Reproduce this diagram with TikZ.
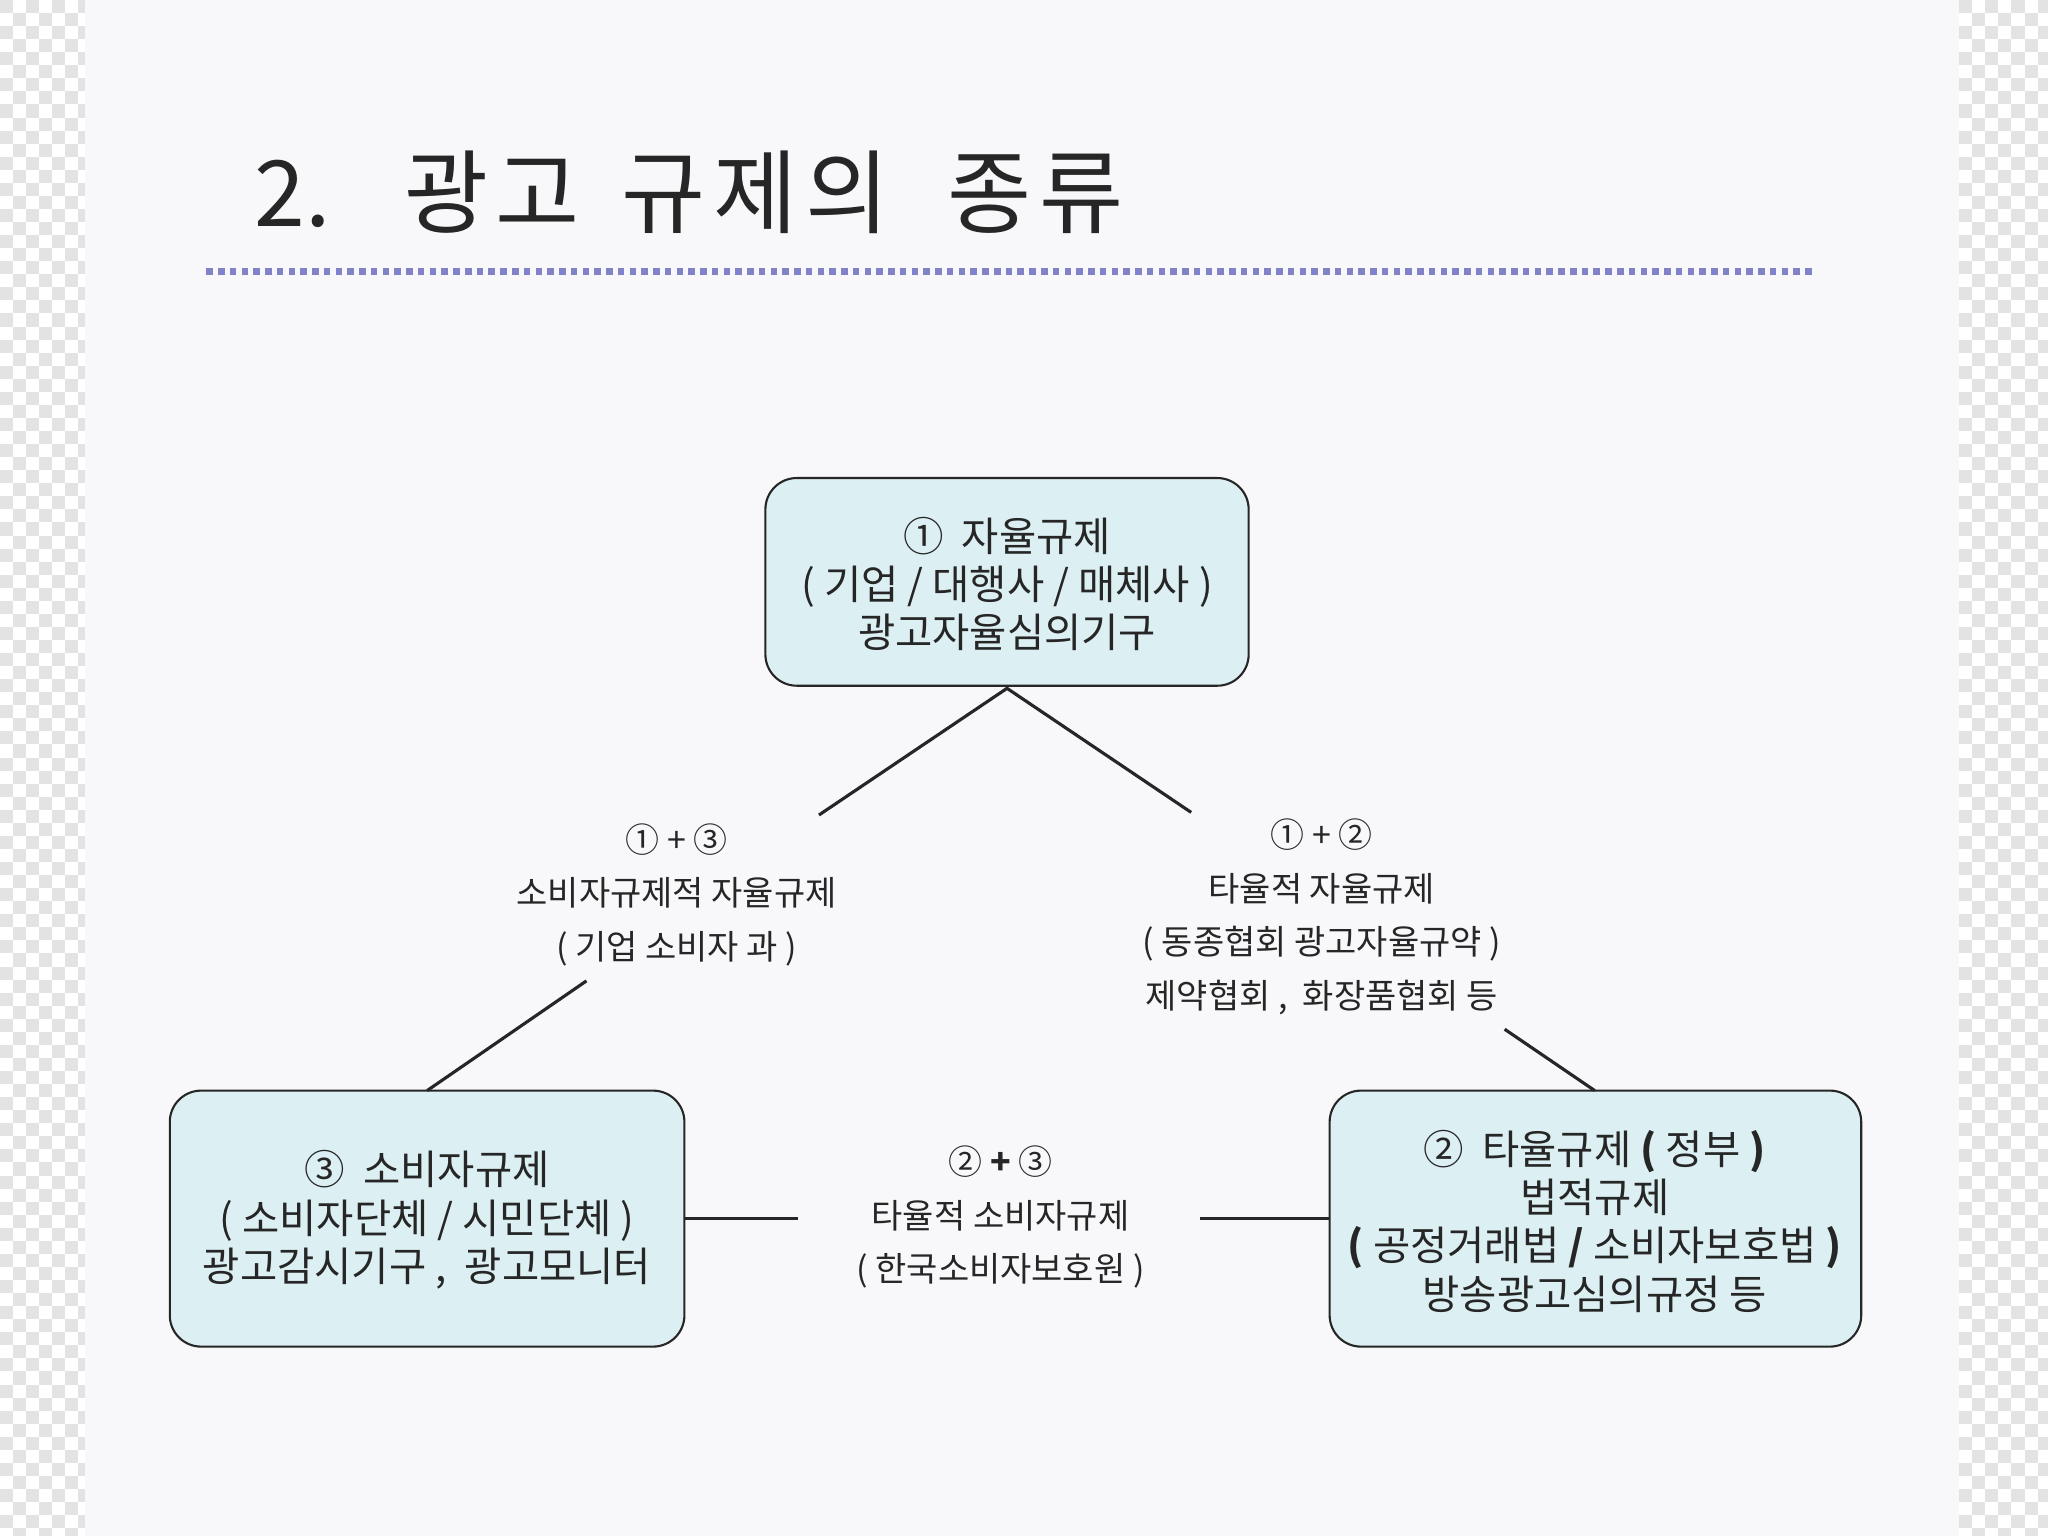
\documentclass[tikz,border=0pt]{standalone}
\usepackage{fontspec}
\setmainfont{Noto Sans CJK KR}
\begin{document}
\begin{tikzpicture}[x=0.5pt,y=-0.5pt,
  box/.style={draw=black!85,fill=boxc,rounded corners=12pt,line width=0.8pt},
  bt/.style={align=center,font=\fontsize{15.5}{18.5}\selectfont,text=black!85},
  lt/.style={align=center,font=\fontsize{13}{20.5}\selectfont,text=black!85},
  ln/.style={line width=1.2pt,black!85}]
\definecolor{boxc}{HTML}{DCEFF2}
\definecolor{pg}{HTML}{F8F8FA}
\useasboundingbox (0,0) rectangle (1568,1176);
\fill[white] (0,0) rectangle (1568,1176);
\foreach \i in {0,...,117}{\foreach \j in {0,...,6}{
  \pgfmathtruncatemacro\p{mod(\i+\j,2)}
  \ifnum\p=0 \fill[black!11] (\j*10,\i*10) rectangle ++(10,10);
  \fill[black!11] (1500+\j*10,\i*10) rectangle ++(10,10);\fi}}
\fill[pg] (65,0) rectangle (1500,1176);
\node[anchor=west,font=\fontsize{35}{40}\selectfont,text=black!85] (title) at (188,147)
  {2.\hspace{28pt}광\hspace{3pt}고\hspace{16pt}규\hspace{3pt}제\hspace{3pt}의\hspace{22pt}종\hspace{3pt}류};
\draw[line width=2.5pt,dotted,color=blue!40!gray!70] (158,208) -- (1390,208);
\draw[box] (586,366) rectangle (956,525);
\node[bt] (b1) at (771,447) {① \ 자율규제\\( 기업 / 대행사 / 매체사 )\\광고자율심의기구};
\draw[box] (130,835) rectangle (524,1031);
\node[bt] (b3) at (327,934) {③ \ 소비자규제\\( 소비자단체 / 시민단체 )\\광고감시기구 , \ 광고모니터};
\draw[box] (1018,835) rectangle (1425,1031);
\node[bt] (b2) at (1221,935) {② \ 타율규제 \textbf{( }정부 \textbf{)}\\법적규제\\\textbf{( }공정거래법 \textbf{/ }소비자보호법 \textbf{)}\\방송광고심의규정 등};
\node[lt] (l13) at (518,685) {① + ③\\소비자규제적 자율규제\\( 기업 소비자 과 )};
\node[lt] (l12) at (1012,702) {① + ②\\타율적 자율규제\\( 동종협회 광고자율규약 )\\제약협회 , \ 화장품협회 등};
\node[lt] (l23) at (766,932) {② \textbf{+} ③\\타율적 소비자규제\\( 한국소비자보호원 )};
\coordinate (t1) at (771,527); \coordinate (a1) at (627,624); \coordinate (a2) at (912,622);
\coordinate (a3) at (449,751); \coordinate (t3) at (327,835);
\coordinate (a4) at (1152,788); \coordinate (t2) at (1221,835);
\coordinate (r3) at (524,933); \coordinate (a5) at (611,933);
\coordinate (a6) at (919,933); \coordinate (l2) at (1018,933);
\draw[ln] (a1) -- (t1) -- (a2);
\draw[ln] (a3) -- (t3);
\draw[ln] (a4) -- (t2);
\draw[ln] (r3) -- (a5);
\draw[ln] (a6) -- (l2);
\end{tikzpicture}
\end{document}
